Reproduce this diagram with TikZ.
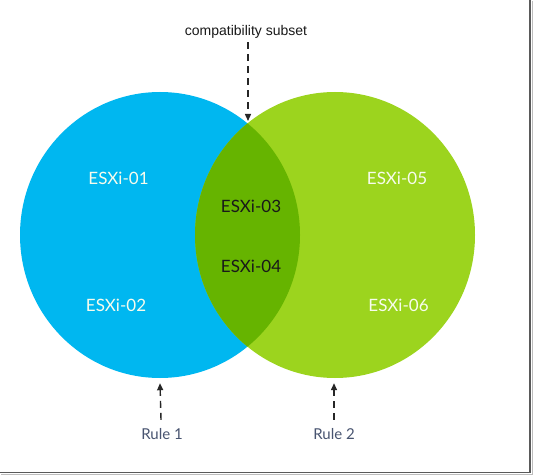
\documentclass[tikz,border=0pt]{standalone}
\usepackage{fontspec}
\setmainfont{Lato}
\newfontfamily\arialfont{Liberation Sans}
\usetikzlibrary{arrows.meta,positioning,shapes.geometric}
\definecolor{sky}{RGB}{0,183,240}
\definecolor{lime}{RGB}{156,212,30}
\definecolor{moss}{RGB}{102,180,0}
\definecolor{slate}{RGB}{72,84,112}
\definecolor{frame}{RGB}{90,90,90}
\tikzset{
  >={Triangle[length=7pt,width=6pt]},
  ruleset/.style={ellipse,fill=#1,minimum width=280pt,minimum height=286pt,inner sep=0pt},
  host/.style={font=\fontsize{17}{20}\selectfont,text=#1},
  host/.default=white!92!lime,
  pointer/.style={->,dash pattern=on 7pt off 5pt,line width=1.4pt,draw=black!85},
  tag/.style={font=\fontsize{15}{18}\selectfont,text=slate},
}

\begin{document}
\begin{tikzpicture}[x=1pt,y=-1pt]
  \useasboundingbox (0,0) rectangle (533,476);
  \fill[white] (0,0) rectangle (533,476);
  % frame shadow
  \draw[frame,line width=1.6pt] (530,0) -- (530,472.5) -- (0,472.5);
  \draw[frame!40,line width=1pt] (532,1) -- (532,474.5) -- (1,474.5);

  % the two rule sets
  \node[ruleset=sky] (set1) at (160,235) {};
  \node[ruleset=lime] (set2) at (335,235) {};
  \begin{scope}
    \clip (160,235) ellipse [x radius=140,y radius=143];
    \fill[moss] (335,235) ellipse [x radius=140,y radius=143];
  \end{scope}
  \coordinate (lenstop) at (248,121);

  % hosts
  \node[host] (h1) at (118.5,178) {ESXi-01};
  \node[host] (h2) at (116,305) {ESXi-02};
  \node[host=black!90] (h3) at (251,206) {ESXi-03};
  \node[host=black!90] (h4) at (251,266) {ESXi-04};
  \node[host] (h5) at (397,178) {ESXi-05};
  \node[host] (h6) at (398.5,305) {ESXi-06};

  % labels
  \node[font=\arialfont\fontsize{14}{17}\selectfont,text=black!90] (subset) at (246,32) {compatibility subset};
  \node[tag] (rule1) at (162,434) {Rule 1};
  \node[tag] (rule2) at (334,434) {Rule 2};

  \draw[pointer] ([xshift=2pt]subset.south) -- (lenstop);
  \draw[pointer] ([xshift=-1pt,yshift=5pt]rule1.north) -- ([yshift=-5pt]set1.south);
  \draw[pointer] ([yshift=5pt]rule2.north) -- ([yshift=-5pt]set2.south -| rule2.north);
\end{tikzpicture}
\end{document}
